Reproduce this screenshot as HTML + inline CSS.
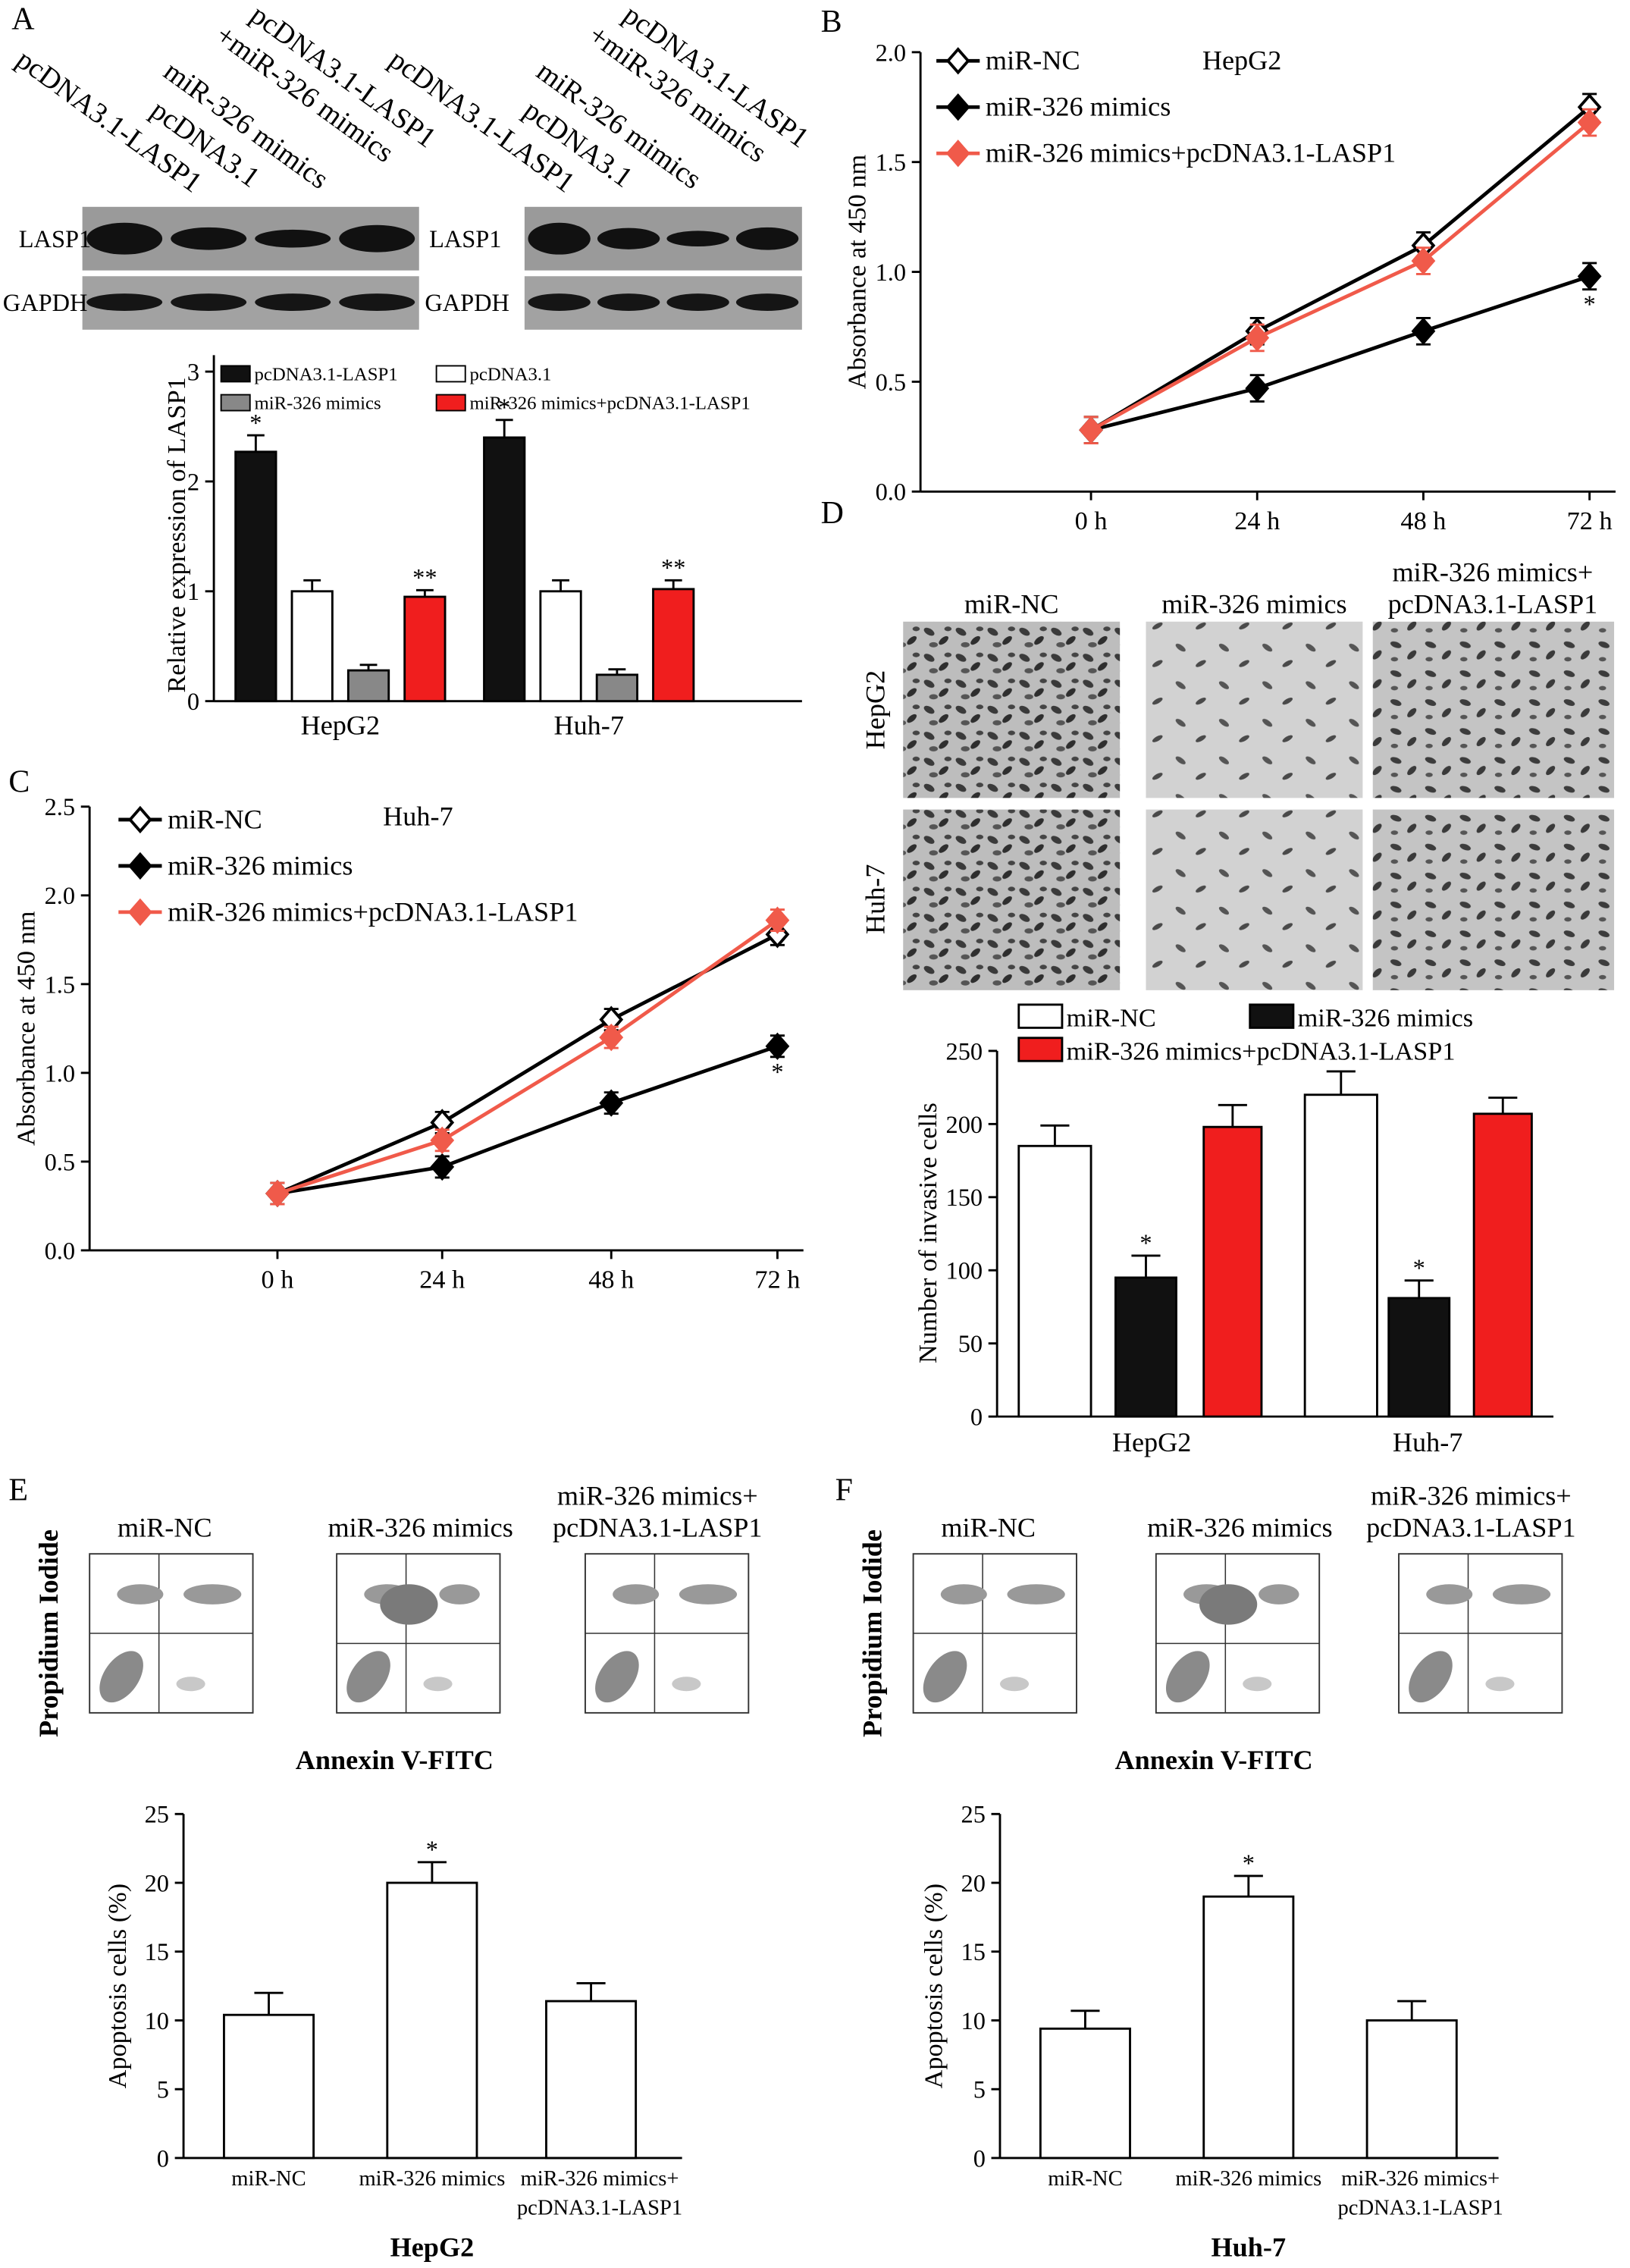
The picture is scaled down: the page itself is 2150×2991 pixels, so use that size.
<!DOCTYPE html>
<html><head><meta charset="utf-8"><style>
html,body{margin:0;padding:0;background:#fff}
svg{display:block;font-family:"Liberation Serif",serif}
</style></head><body>
<svg id="fig" width="2150" height="2991" viewBox="0 0 1128 1569" xmlns="http://www.w3.org/2000/svg">
<defs>
<pattern id="cellsA" width="22" height="18" patternUnits="userSpaceOnUse">
<rect width="22" height="18" fill="#bdbdbd"/>
<ellipse cx="5" cy="5" rx="4" ry="2.2" fill="#3a3a3a" transform="rotate(30 5 5)"/>
<ellipse cx="15" cy="11" rx="4" ry="2" fill="#2e2e2e" transform="rotate(-40 15 11)"/>
<ellipse cx="8" cy="14" rx="3" ry="1.8" fill="#555"/>
<ellipse cx="18" cy="3" rx="2.5" ry="1.6" fill="#444"/>
</pattern>
<pattern id="cellsB" width="30" height="26" patternUnits="userSpaceOnUse">
<rect width="30" height="26" fill="#d2d2d2"/>
<ellipse cx="7" cy="6" rx="4" ry="1.8" fill="#555" transform="rotate(35 7 6)"/>
<ellipse cx="21" cy="17" rx="4" ry="1.6" fill="#4a4a4a" transform="rotate(-30 21 17)"/>
</pattern>
<pattern id="cellsC" width="24" height="20" patternUnits="userSpaceOnUse">
<rect width="24" height="20" fill="#c4c4c4"/>
<ellipse cx="6" cy="6" rx="4" ry="2" fill="#3c3c3c" transform="rotate(20 6 6)"/>
<ellipse cx="17" cy="13" rx="4" ry="2" fill="#3a3a3a" transform="rotate(-45 17 13)"/>
<ellipse cx="5" cy="16" rx="2.5" ry="1.5" fill="#555"/>
</pattern>
</defs>
<g id="root"></g>
</svg>
<script>
// ---------- Data ----------
const aGroups = ["HepG2","Huh-7"];
const aSeries = ["pcDNA3.1-LASP1","pcDNA3.1","miR-326 mimics","miR-326 mimics+pcDNA3.1-LASP1"];
const aValues = [[2.27,1.0,0.28,0.95],[2.4,1.0,0.24,1.02]];
const aErrors = [[0.15,0.1,0.05,0.06],[0.16,0.1,0.05,0.08]];
const aStars = [["*","","","**"],["*","","","**"]];
const aTicks = [0,1,2,3];

const timeCats = ["0 h","24 h","48 h","72 h"];
const bNC = [0.28,0.73,1.12,1.75];
const bMimics = [0.28,0.47,0.73,0.98];
const bRescue = [0.28,0.70,1.05,1.68];
const bTicks = [0,0.5,1.0,1.5,2.0];
const cNC = [0.32,0.72,1.30,1.78];
const cMimics = [0.32,0.47,0.83,1.15];
const cRescue = [0.32,0.62,1.20,1.86];
const cTicks = [0,0.5,1.0,1.5,2.0,2.5];

const dGroups = ["HepG2","Huh-7"];
const dValues = [[185,95,198],[220,81,207]];
const dErrors = [[14,15,15],[16,12,11]];
const dTicks = [0,50,100,150,200,250];

const eCats = ["miR-NC","miR-326 mimics","miR-326 mimics+"];
const eValues = [10.4,20,11.4];
const eErrors = [1.6,1.5,1.3];
const fValues = [9.4,19,10];
const fErrors = [1.3,1.5,1.4];
const efTicks = [0,5,10,15,20,25];

// ---------- Helpers ----------
const NS="http://www.w3.org/2000/svg";
const root=document.getElementById('root');
function el(tag,attrs,parent,text){const e=document.createElementNS(NS,tag);for(const k in attrs)e.setAttribute(k,attrs[k]);if(text!==undefined)e.textContent=text;(parent||root).appendChild(e);return e;}
function grp(name){const g=el('g',{});


return g;}
function txt(g,x,y,s,size,opts){opts=opts||{};const t=el('text',Object.assign({x:x,y:y,'font-size':size,fill:'#000'},opts),g,s);


return t;}
function line(g,x1,y1,x2,y2,w,c){return el('line',{x1:x1,y1:y1,x2:x2,y2:y2,stroke:c||'#000','stroke-width':w||1.5},g);}

// panel letters
[["A",8,20],["B",568,22],["C",6,548],["D",568,362],["E",6,1038],["F",578,1038]].forEach(p=>{
 const t=txt(root,p[1],p[2],p[0],22,{nm:'panel-label'});});

// ---------- Panel A blots ----------
(function(){
 const g=grp('panel-a-blots');
 const blots=[[57,290],[363,555]];
 blots.forEach((b,i)=>{
  const r1=el('rect',{x:b[0],y:143,width:b[1]-b[0],height:44,fill:'#9a9a9a'},g);
  
  const r2=el('rect',{x:b[0],y:191,width:b[1]-b[0],height:37,fill:'#a2a2a2'},g);
  
  const w=(b[1]-b[0])/4;
  const lasp=i==0?[1,0.6,0.4,0.8]:[1,0.55,0.3,0.6];
  for(let k=0;k<4;k++){
   const cx=b[0]+w*(k+0.5);
   el('ellipse',{cx:cx,cy:165,rx:w*0.45,ry:3+8*lasp[k],fill:'#111'},g);
   el('ellipse',{cx:cx,cy:209,rx:w*0.45,ry:6,fill:'#151515'},g);
  }
  txt(g,i==0?13:297,171,'LASP1',17);
  txt(g,i==0?2:294,215,'GAPDH',17);
  const off=i==0?0:258;
  const lbls=[['pcDNA3.1-LASP1',10,44],['pcDNA3.1',103,79],['miR-326 mimics',112,52],['+miR-326 mimics',148,27],['pcDNA3.1-LASP1',172,13]];
  lbls.forEach(L=>{const x=L[1]+off,y=L[2];
   txt(g,x,y,L[0],20,{transform:`rotate(36 ${x} ${y})`});});
 });
})();

// ---------- Panel A bar chart ----------
(function(){
 const g=grp('panel-a-chart');
 const X0=148,Y0=485,ppu=76;
 const ys=v=>Y0-v*ppu;
 line(g,X0,ys(3.15),X0,Y0);line(g,X0,Y0,555,Y0);
 aTicks.forEach(t=>{line(g,X0-6,ys(t),X0,ys(t));txt(g,X0-10,ys(t)+6,String(t),17,{'text-anchor':'end'});});
 txt(g,128,370,'Relative expression of LASP1',18,{'text-anchor':'middle',transform:'rotate(-90 128 370)',nm:'y-axis-title'});
 const colors=['#111','#fff','#888','#f01e1e'];
 const groupStart=[163,335],bw=28,gap=11;
 aGroups.forEach((gn,i)=>{
  aValues[i].forEach((v,k)=>{
   const x=groupStart[i]+k*(bw+gap);
   const r=el('rect',{x:x,y:ys(v),width:bw,height:Y0-ys(v),fill:colors[k],stroke:'#000','stroke-width':1.5},g);
   
   
   const e=aErrors[i][k];
   line(g,x+bw/2,ys(v),x+bw/2,ys(v+e));line(g,x+bw/2-6,ys(v+e),x+bw/2+6,ys(v+e));
   if(aStars[i][k])txt(g,x+bw/2,ys(v+e)-3,aStars[i][k],17,{'text-anchor':'middle'});
  });
  txt(g,groupStart[i]+2*(bw+gap)-gap/2,508,gn,19,{'text-anchor':'middle'});
 });
 const lg=[[153,262,0],[302,262,1],[153,282,2],[302,282,3]];
 lg.forEach(l=>{const r=el('rect',{x:l[0],y:l[1]-9,width:20,height:11,fill:colors[l[2]],stroke:'#000'},g);
  
  txt(g,l[0]+23,l[1]+1,aSeries[l[2]],13);});
})();

// ---------- Line charts ----------
function lineChart(name,X0,Y0,ppu,xEnd,xs,ticks,series,tag,tagX,tagY,legX,legY){
 const g=grp(name);
 const ys=v=>Y0-v*ppu;
 const top=ys(ticks[ticks.length-1]);
 line(g,X0,top,X0,Y0);line(g,X0,Y0,xEnd,Y0);
 ticks.forEach(t=>{line(g,X0-6,ys(t),X0,ys(t));txt(g,X0-10,ys(t)+6,t.toFixed(1),17,{'text-anchor':'end'});});
 timeCats.forEach((c,i)=>{line(g,xs[i],Y0,xs[i],Y0+6);txt(g,xs[i],Y0+26,c,18,{'text-anchor':'middle'});});
 txt(g,X0-38,(top+Y0)/2,'Absorbance at 450 nm',18,{'text-anchor':'middle',transform:`rotate(-90 ${X0-38} ${(top+Y0)/2})`,nm:'y-axis-title'});
 series.forEach((s,si)=>{
  const pts=s.vals.map((v,i)=>xs[i]+','+ys(v)).join(' ');
  const pl=el('polyline',{points:pts,fill:'none',stroke:s.color,'stroke-width':2.5},g);
  
  
  s.vals.forEach((v,i)=>{
   const x=xs[i],y=ys(v);
   line(g,x,ys(v+0.06),x,ys(v-0.06),1.5,s.color);line(g,x-5,ys(v+0.06),x+5,ys(v+0.06),1.5,s.color);line(g,x-5,ys(v-0.06),x+5,ys(v-0.06),1.5,s.color);
   const m=el('polygon',{points:`${x},${y-8} ${x+7},${y} ${x},${y+8} ${x-7},${y}`,fill:s.fill,stroke:s.color,'stroke-width':2},g);
   
   
  });
  if(s.star)txt(g,xs[3],ys(s.vals[3]-0.06)+16,'*',17,{'text-anchor':'middle'});
  const ly=legY+si*32;
  line(g,legX,ly,legX+30,ly,2.5,s.color);
  el('polygon',{points:`${legX+15},${ly-8} ${legX+22},${ly} ${legX+15},${ly+8} ${legX+8},${ly}`,fill:s.fill,stroke:s.color,'stroke-width':2},g);
  txt(g,legX+34,ly+6,s.label,19);
 });
 txt(g,tagX,tagY,tag,19);
}
lineChart('panel-b-chart',637,340,152,1118,[755,870,985,1100],bTicks,[
 {key:'mir-nc',vals:bNC,color:'#000',fill:'#fff',label:'miR-NC'},
 {key:'mimics',vals:bMimics,color:'#000',fill:'#000',label:'miR-326 mimics',star:true},
 {key:'rescue',vals:bRescue,color:'#f05a4a',fill:'#f05a4a',label:'miR-326 mimics+pcDNA3.1-LASP1'}],
 'HepG2',832,48,648,42);
lineChart('panel-c-chart',62,865,122.8,556,[192,306,423,538],cTicks,[
 {key:'mir-nc',vals:cNC,color:'#000',fill:'#fff',label:'miR-NC'},
 {key:'mimics',vals:cMimics,color:'#000',fill:'#000',label:'miR-326 mimics',star:true},
 {key:'rescue',vals:cRescue,color:'#f05a4a',fill:'#f05a4a',label:'miR-326 mimics+pcDNA3.1-LASP1'}],
 'Huh-7',265,571,82,567);

// ---------- Panel D micrographs ----------
(function(){
 const g=grp('panel-d-micrographs');
 const cols=[[625,775,'cellsA'],[793,943,'cellsB'],[950,1117,'cellsC']];
 const rows=[[430,552],[560,685]];
 rows.forEach(r=>cols.forEach(c=>{
  const rr=el('rect',{x:c[0],y:r[0],width:c[1]-c[0],height:r[1]-r[0],fill:`url(#${c[2]})`},g);
  
 }));
 txt(g,700,424,'miR-NC',19,{'text-anchor':'middle'});
 txt(g,868,424,'miR-326 mimics',19,{'text-anchor':'middle'});
 txt(g,1033,402,'miR-326 mimics+',19,{'text-anchor':'middle'});
 txt(g,1033,424,'pcDNA3.1-LASP1',19,{'text-anchor':'middle'});
 txt(g,612,491,'HepG2',19,{'text-anchor':'middle',transform:'rotate(-90 612 491)'});
 txt(g,612,622,'Huh-7',19,{'text-anchor':'middle',transform:'rotate(-90 612 622)'});
})();

// ---------- Panel D bar chart ----------
(function(){
 const g=grp('panel-d-chart');
 const X0=690,Y0=980,ppu=253/250;
 const ys=v=>Y0-v*ppu;
 line(g,X0,ys(250),X0,Y0);line(g,X0,Y0,1075,Y0);
 dTicks.forEach(t=>{line(g,X0-6,ys(t),X0,ys(t));txt(g,X0-10,ys(t)+6,String(t),17,{'text-anchor':'end'});});
 txt(g,648,853,'Number of invasive cells',18,{'text-anchor':'middle',transform:'rotate(-90 648 853)',nm:'y-axis-title'});
 const colors=['#fff','#111','#f01e1e'];
 const gs=[[705,772,833],[903,961,1020]];
 dGroups.forEach((gn,i)=>{
  dValues[i].forEach((v,k)=>{
   const x=gs[i][k],w=[50,42,40][k];
   const r=el('rect',{x:x,y:ys(v),width:w,height:Y0-ys(v),fill:colors[k],stroke:'#000','stroke-width':1.5},g);
   
   
   const e=dErrors[i][k];
   line(g,x+w/2,ys(v),x+w/2,ys(v+e));line(g,x+w/2-10,ys(v+e),x+w/2+10,ys(v+e));
   if(k==1)txt(g,x+w/2,ys(v+e)-3,'*',17,{'text-anchor':'middle'});
  });
  txt(g,i==0?797:988,1004,gn,19,{'text-anchor':'middle'});
 });
 const lg=[[705,704,0,'miR-NC'],[865,704,1,'miR-326 mimics'],[705,727,2,'miR-326 mimics+pcDNA3.1-LASP1']];
 lg.forEach(l=>{el('rect',{x:l[0],y:l[1]-9,width:30,height:16,fill:colors[l[2]],stroke:'#000','stroke-width':1.5},g);
  txt(g,l[0]+33,l[1]+6,l[3],18);});
})();

// ---------- Flow plots (E & F) ----------
function flowPlots(name,xs,ylab,xlab){
 const g=grp(name);
 xs.forEach((x0,pi)=>{
  const w=113,y0=1075,h=110;
  const r=el('rect',{x:x0,y:y0,width:w,height:h,fill:'#fff',stroke:'#333','stroke-width':1},g);
  
  const qy=pi==1?y0+62:y0+55;
  line(g,x0+48,y0,x0+48,y0+h,0.8,'#333');line(g,x0,qy,x0+w,qy,0.8,'#333');
  el('ellipse',{cx:x0+22,cy:y0+85,rx:12,ry:20,fill:'#8a8a8a',transform:`rotate(35 ${x0+22} ${y0+85})`},g);
  el('ellipse',{cx:x0+35,cy:y0+28,rx:16,ry:7,fill:'#999'},g);
  el('ellipse',{cx:x0+85,cy:y0+28,rx:pi==1?14:20,ry:7,fill:'#999'},g);
  if(pi==1)el('ellipse',{cx:x0+50,cy:y0+35,rx:20,ry:14,fill:'#7a7a7a'},g);
  el('ellipse',{cx:x0+70,cy:y0+90,rx:10,ry:5,fill:'#c8c8c8'},g);
 });
 const cx=xs[0]-22;
 txt(g,cx,1130,ylab,19,{'text-anchor':'middle','font-weight':'bold',transform:`rotate(-90 ${cx} 1130)`,nm:'y-axis-title'});
 txt(g,xs[1]+40,1224,xlab,19,{'text-anchor':'middle','font-weight':'bold',nm:'x-axis-title'});
 txt(g,xs[0]+52,1063,'miR-NC',19,{'text-anchor':'middle'});
 txt(g,xs[1]+58,1063,'miR-326 mimics',19,{'text-anchor':'middle'});
 txt(g,xs[2]+50,1041,'miR-326 mimics+',19,{'text-anchor':'middle'});
 txt(g,xs[2]+50,1063,'pcDNA3.1-LASP1',19,{'text-anchor':'middle'});
}
flowPlots('panel-e-flow',[62,233,405],'Propidium Iodide','Annexin V-FITC');
flowPlots('panel-f-flow',[632,800,968],'Propidium Iodide','Annexin V-FITC');

// ---------- Apoptosis bar charts ----------
function apopChart(name,X0,xs,vals,errs,cell){
 const g=grp(name);
 const Y0=1493,ppu=238/25;
 const ys=v=>Y0-v*ppu;
 line(g,X0,ys(25),X0,Y0);line(g,X0,Y0,X0+345,Y0);
 efTicks.forEach(t=>{line(g,X0-6,ys(t),X0,ys(t));txt(g,X0-10,ys(t)+6,String(t),17,{'text-anchor':'end'});});
 txt(g,X0-40,1374,'Apoptosis cells (%)',18,{'text-anchor':'middle',transform:`rotate(-90 ${X0-40} 1374)`,nm:'y-axis-title'});
 vals.forEach((v,k)=>{
  const x=xs[k],w=62;
  const r=el('rect',{x:x,y:ys(v),width:w,height:Y0-ys(v),fill:'#fff',stroke:'#000','stroke-width':1.5},g);
  
  
  const e=errs[k];
  line(g,x+w/2,ys(v),x+w/2,ys(v+e));line(g,x+w/2-10,ys(v+e),x+w/2+10,ys(v+e));
  if(k==1)txt(g,x+w/2,ys(v+e)-3,'*',17,{'text-anchor':'middle'});
  txt(g,x+w/2+(k==2?6:0),1512,eCats[k],15,{'text-anchor':'middle'});
 });
 txt(g,xs[2]+37,1532,'pcDNA3.1-LASP1',15,{'text-anchor':'middle'});
 txt(g,xs[1]+31,1561,cell,19,{'text-anchor':'middle','font-weight':'bold'});
}
apopChart('panel-e-chart',127,[155,268,378],eValues,eErrors,'HepG2');
apopChart('panel-f-chart',692,[720,833,946],fValues,fErrors,'Huh-7');
</script>
</body></html>
